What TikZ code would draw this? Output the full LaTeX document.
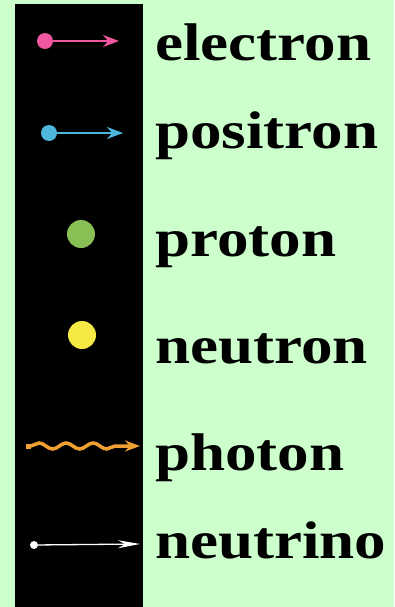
\documentclass[tikz,border=0pt]{standalone}
\usepackage{fontspec}
\setmainfont{Liberation Serif}
\usepackage{tikz}
\usetikzlibrary{arrows.meta,decorations.pathmorphing}
\definecolor{bgGreen}{HTML}{CCFFCC}
\definecolor{elecPink}{HTML}{F0579F}
\definecolor{posBlue}{HTML}{4DB8DC}
\definecolor{protGreen}{HTML}{88C055}
\definecolor{neutYellow}{HTML}{F7E943}
\definecolor{photOrange}{HTML}{F0A030}
\newcommand{\pname}[1]{\scalebox{1.19}[1]{#1}}
\tikzset{
  ball/.style={circle,inner sep=0pt,minimum size=#1},
  lbl/.style={anchor=base west,inner sep=0pt,font=\fontsize{53}{60}\selectfont\bfseries},
  arr/.style={-{Stealth[length=16pt,width=12pt]},line width=1.8pt},
  wavy/.style={decorate,decoration={snake,amplitude=3pt,segment length=27pt,post length=17pt}},
}

\begin{document}
\begin{tikzpicture}[x=1pt,y=-1pt]
\fill[bgGreen] (0,0) rectangle (394,607);
\fill[black] (15,4) rectangle (143,607);
\useasboundingbox (0,0) rectangle (394,607);

\node[ball=16pt,fill=elecPink] (elec) at (45,41) {};
\coordinate (elecTip) at (119,41);
\draw[arr,elecPink] (elec) -- (elecTip);
\node[lbl] (elecLbl) at (155,61) {\pname{electron}};

\node[ball=16pt,fill=posBlue] (pos) at (49,133) {};
\coordinate (posTip) at (123,133);
\draw[arr,posBlue] (pos) -- (posTip);
\node[lbl] (posLbl) at (155,148) {\pname{positron}};

\node[ball=28pt,fill=protGreen] (prot) at (81,234) {};
\node[lbl] (protLbl) at (155,256) {\pname{proton}};

\node[ball=28pt,fill=neutYellow] (neut) at (82,335) {};
\node[lbl] (neutLbl) at (155,363) {\pname{neutron}};

\node[fill=photOrange,minimum size=5pt,inner sep=0pt] (phot) at (28,446) {};
\coordinate (photTip) at (140,446);
\draw[wavy,photOrange,line width=3.5pt,-{Stealth[length=15pt,width=11pt]}] (phot.east) -- (photTip);
\node[lbl] (photLbl) at (155,470) {\pname{photon}};

\node[ball=8pt,fill=white] (nu) at (34,545) {};
\coordinate (nuTip) at (140,544);
\draw[white,line width=1.3pt,-{Stealth[length=22pt,width=8pt]}] (nu) -- (nuTip);
\node[lbl] (nuLbl) at (155,558) {\pname{neutrino}};

\end{tikzpicture}
\end{document}
